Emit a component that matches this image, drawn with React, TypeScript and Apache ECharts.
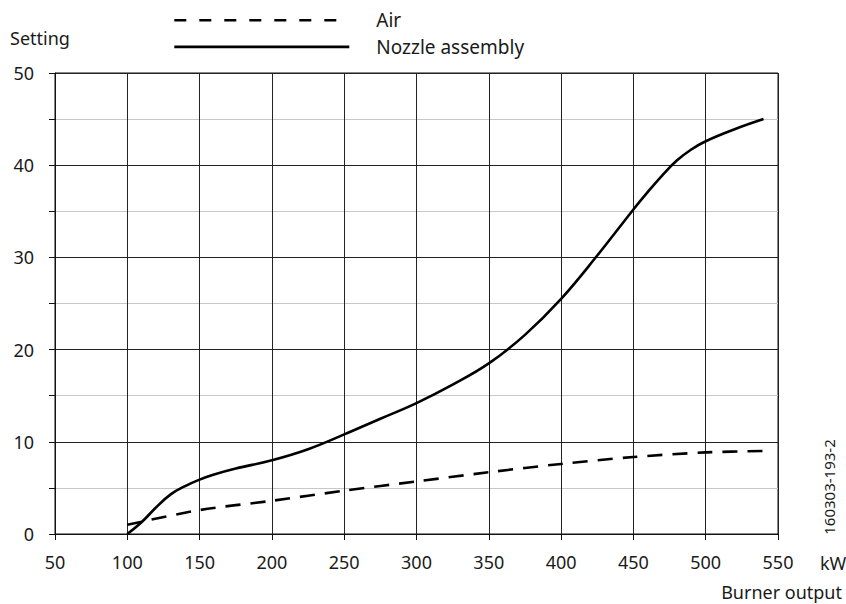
import React, { useEffect, useRef } from "react";
import * as echarts from "echarts";

const FONT = "'Noto Sans', 'Open Sans', sans-serif";
const TEXT = "#1a1a1a";

const seriesNames = ["Air", "Nozzle assembly"];
const xTicks = [50, 550, 50]; // min, max, interval
const yTicks = [0, 50, 10];

const airData: [number, number][] = [
  [100, 1.0], [150, 2.6], [200, 3.6], [250, 4.7],
  [300, 5.7], [350, 6.7], [400, 7.6], [450, 8.35], [500, 8.85], [540, 9.0],
];

const nozzleData: [number, number][] = [
  [100, 0], [110, 1.3], [120, 2.9], [130, 4.3], [140, 5.2], [150, 5.9],
  [160, 6.45], [175, 7.1], [200, 8.0], [225, 9.2], [250, 10.8], [275, 12.5],
  [300, 14.2], [325, 16.2], [350, 18.5], [375, 21.6], [400, 25.5], [425, 30.2],
  [450, 35.2], [460, 37.1], [470, 38.9], [480, 40.5], [490, 41.7], [500, 42.6],
  [520, 43.9], [540, 45.0],
];

const yName = "Setting";
const xUnit = "kW";
const xName = "Burner output";
const docId = "160303-193-2";

export default function App() {
  const ref = useRef<HTMLDivElement>(null);
  useEffect(() => {
    if (!ref.current) return;
    const chart = echarts.init(ref.current, undefined, { renderer: "svg" });
    chart.setOption({
      animation: false,
      backgroundColor: "#ffffff",
      textStyle: { fontFamily: FONT },
      grid: {
        left: 55, right: 68, top: 73, bottom: 70,
        show: true, borderColor: "#111", borderWidth: 1,
        backgroundColor: "transparent",
      },
      legend: {
        orient: "vertical",
        left: 173,
        top: 10.7,
        padding: 0,
        itemWidth: 175,
        itemHeight: 14,
        itemGap: 7.7,
        selectedMode: false,
        itemStyle: { color: "transparent", borderColor: "transparent", borderWidth: 0, opacity: 0 },
        lineStyle: { width: 2.6, color: "#000" },
        textStyle: {
          fontSize: 19, color: TEXT, fontFamily: FONT,
          lineHeight: 14, padding: [0, 0, 0, 22],
        },
        data: [
          { name: seriesNames[0], lineStyle: { type: [12, 13], width: 2.6 } },
          { name: seriesNames[1] },
        ],
      },
      xAxis: {
        type: "value",
        min: xTicks[0], max: xTicks[1], interval: xTicks[2],
        axisLine: { show: true, onZero: false, lineStyle: { color: "#111", width: 1 } },
        axisTick: { show: true, length: 6, lineStyle: { color: "#111" } },
        axisLabel: { fontSize: 18, color: TEXT, margin: 19, fontFamily: FONT },
        splitLine: { show: true, lineStyle: { color: "#222", width: 1 } },
      },
      yAxis: {
        type: "value",
        min: yTicks[0], max: yTicks[1], interval: yTicks[2],
        axisLine: { show: true, lineStyle: { color: "#111", width: 1 } },
        axisTick: { show: true, length: 6, lineStyle: { color: "#111" } },
        minorTick: { show: true, splitNumber: 2, length: 6, lineStyle: { color: "#111" } },
        minorSplitLine: { show: true, lineStyle: { color: "#c8c8c8", width: 1 } },
        axisLabel: { fontSize: 18, color: TEXT, margin: 21, fontFamily: FONT },
        splitLine: { show: true, lineStyle: { color: "#222", width: 1 } },
      },
      series: [
        {
          name: seriesNames[0], type: "line", data: airData,
          smooth: 0.3, showSymbol: false, symbol: "none",
          itemStyle: { color: "#000" },
          lineStyle: { color: "#000", width: 2.6, type: [15, 10] },
        },
        {
          name: seriesNames[1], type: "line", data: nozzleData,
          smooth: 0.4, showSymbol: false, symbol: "none",
          itemStyle: { color: "#000" },
          lineStyle: { color: "#000", width: 2.6, type: "solid" },
        },
      ],
      graphic: [
        {
          type: "text", left: 10, top: 29,
          style: { text: yName, fontSize: 18, fill: TEXT, fontFamily: FONT },
        },
        {
          type: "text", x: 820, y: 563,
          style: { text: xUnit, fontSize: 18, fill: TEXT, fontFamily: FONT, align: "left", verticalAlign: "middle" },
        },
        {
          type: "text", x: 842, y: 591.5,
          style: { text: xName, fontSize: 18, fill: TEXT, fontFamily: FONT, align: "right", verticalAlign: "middle" },
        },
        {
          type: "text", x: 829, y: 487, rotation: Math.PI / 2,
          style: { text: docId, fontSize: 15, fill: TEXT, fontFamily: FONT, align: "center", verticalAlign: "middle" },
        },
      ],
    });
    return () => chart.dispose();
  }, []);
  return (
    <div
      ref={ref}
      style={{ position: "fixed", left: 0, top: 0, width: 846, height: 604, background: "#fff" }}
    />
  );
}
